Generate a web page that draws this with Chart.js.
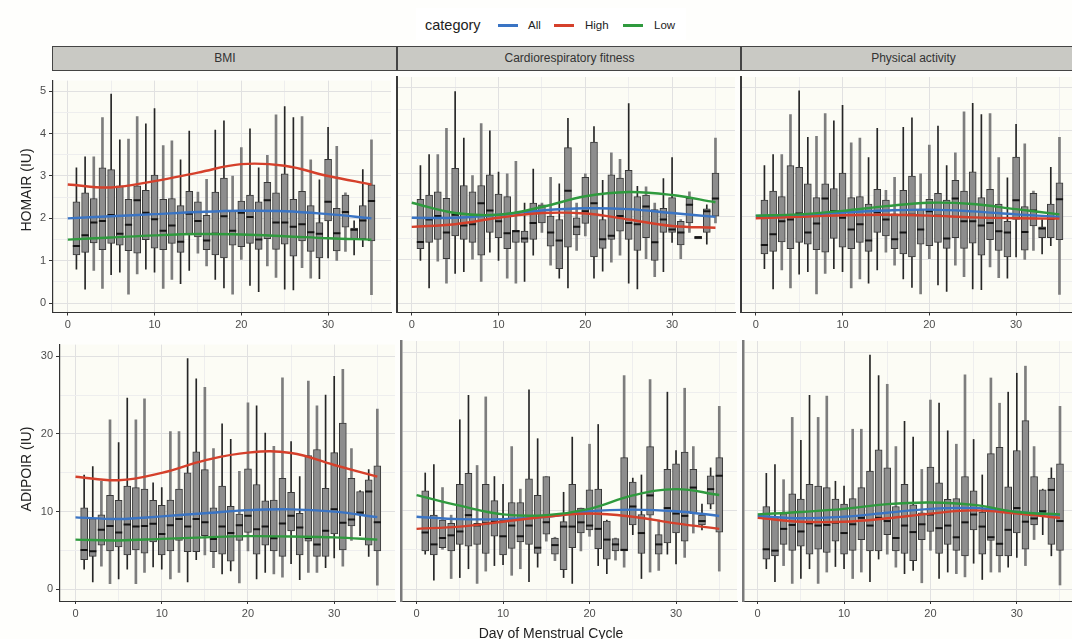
<!DOCTYPE html>
<html lang="en">
<head>
<meta charset="utf-8">
<script src="https://cdn.jsdelivr.net/npm/chart.js"></script>
<style>
  body { margin: 0; background: #fefefc; font-family: "Liberation Sans", Arial, sans-serif; color: #333; }
  #page { position: relative; width: 1072px; height: 639px; overflow: hidden; }
  canvas { position: absolute; }
  .strip { position: absolute; top: 46px; height: 23px; background: #c9c9c4; border-top: 1px solid #444; border-bottom: 1px solid #444;
           border-left: 1px solid #444; font-size: 12px; line-height: 23px; text-align: center; color: #333; }
  .ytitle { position: absolute; width: 200px; text-align: center; font-size: 14px; transform: rotate(-90deg); color: #222; }
  .leg { position: absolute; top: 17px; font-size: 11.5px; line-height: 16px; color: #222; }
  .key { position: absolute; top: 24px; width: 20px; height: 2.5px; }
</style>
</head>
<body>
<div id="page">
  <div style="position:absolute;left:416px;top:8px;width:270px;height:32px;background:#fff"></div>
  <div class="leg" style="left:425px;top:15px;font-size:14.5px;line-height:20px">category</div>
  <div class="key" style="left:498px;background:#3a74c4"></div>
  <div class="leg" style="left:528px">All</div>
  <div class="key" style="left:554px;background:#d5402b"></div>
  <div class="leg" style="left:585px">High</div>
  <div class="key" style="left:623px;background:#2f9a3e"></div>
  <div class="leg" style="left:654px">Low</div>

  <div class="strip" style="left:52px;width:344px">BMI</div>
  <div class="strip" style="left:396px;width:343px;border-left-width:2px">Cardiorespiratory fitness</div>
  <div class="strip" style="left:740px;width:343px;border-left-width:2px">Physical activity</div>

  <canvas id="h1" width="397" height="264" style="left:0;top:71px"></canvas>
  <canvas id="h2" width="350" height="264" style="left:391px;top:71px"></canvas>
  <canvas id="h3" width="350" height="264" style="left:735px;top:71px"></canvas>
  <canvas id="a1" width="401" height="290" style="left:0;top:335px"></canvas>
  <canvas id="a2" width="348" height="290" style="left:395px;top:335px"></canvas>
  <canvas id="a3" width="348" height="290" style="left:737px;top:335px"></canvas>

  <div class="ytitle" style="left:-74px;top:182px">HOMAIR (IU)</div>
  <div class="ytitle" style="left:-74px;top:461px">ADIPOIR (IU)</div>
  <div style="position:absolute;left:451px;top:625px;width:200px;text-align:center;font-size:14px;color:#222">Day of Menstrual Cycle</div>
</div>

<script>
// days of the cycle with a boxplot, and the days where the smooth curves are read
const days = [1,2,3,4,5,6,7,8,9,10,11,12,13,14,15,16,17,18,19,20,21,22,23,24,25,26,27,28,29,30,31,32,33,34,35];
const lineDays = [0,5,10,15,20,25,30,35];
const xTickLabels = [0,10,20,30];
const homaTickLabels = [0,1,2,3,4,5];
const adipoTickLabels = [0,10,20,30];

// HOMAIR boxplots (BMI and physical activity panels)
const homaLow  = [0.80,0.33,0.77,0.35,0.67,0.73,0.21,0.69,0.80,0.73,0.35,0.56,0.46,0.77,1.18,0.88,0.56,0.36,0.21,1.03,0.42,0.27,0.88,0.61,0.33,0.31,0.84,0.59,0.58,1.07,1.01,1.22,1.14,1.33,0.20];
const homaQ1   = [1.14,1.20,1.42,1.26,1.41,1.37,1.24,1.18,1.50,1.30,1.26,1.41,1.20,1.64,1.56,1.26,1.14,1.07,1.37,1.33,1.41,1.27,1.52,1.27,1.39,1.11,1.47,1.22,1.07,1.94,1.23,1.79,1.52,1.52,1.47];
const homaMed  = [1.35,1.60,1.90,1.94,2.08,1.64,1.85,2.43,2.13,1.98,1.71,1.83,1.45,2.11,1.94,1.48,1.64,2.05,1.71,2.13,2.03,1.50,2.43,1.90,1.90,1.80,1.86,1.67,1.64,2.39,1.65,2.15,1.73,1.95,2.41];
const homaQ3   = [2.39,2.60,2.47,3.19,3.15,2.77,2.45,2.77,2.66,3.02,2.45,2.47,2.30,2.64,2.39,2.07,2.62,2.95,2.17,2.41,2.55,2.39,2.85,2.60,3.05,2.45,2.64,2.30,1.90,3.39,2.24,2.55,1.77,2.30,2.79];
const homaHigh = [3.19,3.45,3.45,4.38,4.93,3.85,3.87,4.40,4.23,4.59,3.72,3.83,3.38,4.06,2.62,2.92,4.08,4.30,3.00,3.67,4.11,3.19,3.49,4.44,4.64,4.38,4.40,3.38,2.91,4.15,3.70,2.60,1.94,3.15,3.85];

// HOMAIR boxplots (cardiorespiratory fitness panel)
const homaFitLow  = [0.99,0.35,0.97,0.46,0.69,0.73,1.02,0.50,1.18,0.99,0.58,0.46,0.50,1.11,1.64,0.88,0.58,0.35,1.22,1.56,0.58,0.74,0.95,1.11,0.46,0.33,1.03,0.61,0.73,1.41,1.03,1.64,1.50,1.37,1.86];
const homaFitQ1   = [1.26,1.41,1.48,1.03,1.56,1.48,1.41,1.11,1.64,1.52,1.26,1.41,1.41,1.48,1.86,1.32,0.80,1.30,1.58,1.85,1.07,1.27,1.48,1.67,1.48,1.22,1.52,0.99,1.64,1.64,1.35,1.86,1.49,1.64,2.02];
const homaFitMed  = [1.42,1.94,2.02,1.64,2.05,1.80,1.83,2.32,2.15,1.90,1.62,1.67,1.50,1.86,2.09,1.64,1.45,2.61,1.77,2.13,2.32,1.48,1.56,2.02,1.86,1.83,2.24,1.41,1.94,1.71,1.64,2.28,1.52,2.13,2.43];
const homaFitQ3   = [2.41,2.51,2.58,2.43,3.13,2.73,2.58,2.73,2.98,2.53,2.47,1.69,1.67,2.32,2.28,2.02,1.94,3.61,1.98,2.92,3.74,1.94,2.98,2.90,3.08,2.47,2.51,2.17,2.20,2.45,1.90,2.43,1.55,2.19,3.02];
const homaFitHigh = [3.19,3.45,3.45,4.06,4.91,3.83,2.96,4.17,4.00,3.04,3.00,3.29,2.32,3.11,2.32,2.92,2.77,4.29,2.32,3.00,4.10,2.85,3.49,3.34,4.63,2.71,2.70,2.32,2.89,3.38,1.94,2.58,1.55,2.28,3.83];

// ADIPOIR boxplots (BMI and physical activity panels)
const adipoLow  = [2.60,0.95,3.00,0.74,1.36,2.60,0.74,2.18,2.88,2.60,1.36,2.18,0.95,3.83,4.45,2.80,1.98,2.39,0.82,4.94,1.36,2.18,1.98,1.57,3.30,1.24,2.18,2.18,2.80,4.04,3.00,6.30,6.92,4.24,0.54];
const adipoQ1   = [3.83,4.24,5.69,4.94,5.48,4.45,5.07,4.66,6.10,4.45,4.94,6.30,4.86,4.86,6.92,4.86,4.53,3.63,6.30,7.33,4.53,5.69,4.94,4.24,7.54,4.45,6.20,4.24,4.24,7.13,5.07,8.16,9.70,5.69,4.94];
const adipoMed  = [5.07,4.90,7.66,8.16,7.33,8.36,8.08,8.16,8.45,7.13,8.24,9.06,8.08,9.06,8.65,6.50,8.08,7.25,8.24,9.48,7.75,8.08,6.59,8.49,9.48,7.95,6.60,5.77,7.54,10.30,8.57,8.98,9.90,12.60,8.65];
const adipoQ3   = [10.5,9.1,9.6,12.1,11.45,13.3,13.1,12.9,11.45,10.8,11.5,12.9,15.0,17.7,15.4,10.5,13.3,10.7,9.7,15.5,13.5,11.4,11.5,14.3,12.5,9.8,17.2,18.0,13.0,17.6,21.4,14.3,12.6,14.1,15.9];
const adipoHigh = [14.7,15.8,13.9,21.8,18.9,24.6,21.8,24.5,13.7,13.1,20.3,20.3,29.7,27.1,26.0,18.1,21.3,19.3,15.2,24.0,23.6,20.1,18.4,27.2,19.0,14.5,26.8,23.6,25.0,27.4,28.3,18.1,12.7,15.4,23.2];

// ADIPOIR boxplots (cardiorespiratory fitness panel)
const adipoFitLow  = [4.45,1.15,5.07,1.36,1.48,2.60,0.74,2.30,3.00,3.13,1.77,2.60,0.95,2.80,6.10,3.63,1.48,0.74,4.86,6.72,3.00,1.98,3.70,2.80,6.92,1.36,2.18,2.39,4.45,3.21,4.04,7.13,7.54,10.2,2.30];
const adipoFitQ1   = [4.86,4.37,5.27,4.86,5.69,5.48,5.69,4.53,6.72,4.37,5.19,6.00,5.69,4.53,7.00,4.45,2.47,5.27,7.13,7.54,5.15,3.83,4.86,4.86,8.16,4.53,9.40,4.45,5.89,7.13,6.10,9.60,8.16,10.8,7.25];
const adipoFitMed  = [7.20,5.69,6.50,6.84,7.33,9.40,8.10,8.36,8.57,6.72,8.08,6.72,8.08,5.27,8.50,5.60,7.95,7.95,8.49,8.08,7.66,6.30,5.69,5.00,10.5,7.13,11.9,5.69,10.3,9.60,9.31,12.9,8.65,12.7,14.4];
const adipoFitQ3   = [12.5,9.4,8.78,8.36,13.3,14.7,8.36,13.3,11.25,8.78,11.0,11.0,14.0,11.9,14.3,6.50,8.57,13.3,10.3,12.6,12.7,8.65,6.43,16.7,13.6,9.48,18.1,6.92,15.2,15.9,17.4,15.2,9.40,14.4,16.7];
const adipoFitHigh = [14.75,15.8,12.9,9.4,21.5,24.6,15.7,24.4,14.3,13.3,18.1,12.7,25.3,19.1,14.3,6.6,12.3,19.3,10.3,18.4,20.9,8.78,6.5,27.1,14.1,14.5,26.6,8.78,25.0,17.6,25.5,18.1,10.8,15.4,23.2];

// smooth curves by category, read at lineDays
const homaBmiAll   = [2.00,2.05,2.10,2.15,2.18,2.17,2.10,2.00];
const homaBmiHigh  = [2.80,2.73,2.88,3.08,3.28,3.24,3.00,2.80];
const homaBmiLow   = [1.50,1.55,1.60,1.63,1.62,1.58,1.53,1.50];
const homaFitAll   = [1.98,1.98,2.05,2.15,2.20,2.18,2.09,2.00];
const homaFitHighC = [1.77,1.83,1.98,2.09,2.08,1.94,1.79,1.75];
const homaFitLowC  = [2.33,2.09,2.05,2.23,2.48,2.58,2.51,2.34];
const homaActAll   = [2.02,2.04,2.10,2.15,2.17,2.13,2.06,2.00];
const homaActHigh  = [1.97,2.00,2.04,2.05,2.03,1.99,1.97,1.96];
const homaActLow   = [2.03,2.06,2.14,2.25,2.33,2.30,2.18,2.06];
const adipoBmiAll  = [9.27,9.06,9.40,9.80,10.2,10.3,10.0,9.30];
const adipoBmiHigh = [14.5,14.05,15.0,16.6,17.6,17.55,16.0,14.5];
const adipoBmiLow  = [6.40,6.30,6.50,6.70,6.85,6.80,6.70,6.40];
const adipoFitAll  = [9.20,8.90,8.90,9.20,9.90,10.1,9.90,9.30];
const adipoFitHighC= [7.66,7.95,8.57,9.20,9.60,9.20,8.36,7.66];
const adipoFitLowC = [11.95,10.6,9.50,9.40,10.2,11.9,12.7,11.95];
const adipoActAll  = [9.30,9.00,9.20,9.70,10.2,10.3,9.80,9.40];
const adipoActHigh = [9.06,8.57,8.57,9.00,9.60,10.0,9.60,9.06];
const adipoActLow  = [9.50,9.80,10.2,10.8,11.0,10.7,9.80,9.50];

const BLUE = '#3a74c4', RED = '#d5402b', GREEN = '#2f9a3e';

const panelBg = {
  id: 'panelBg',
  beforeDraw(chart) {
    const a = chart.chartArea, g = chart.ctx;
    g.save();
    g.fillStyle = '#fcfcf5';
    g.fillRect(a.left, a.top, a.right - a.left, a.bottom - a.top);
    g.restore();
  }
};

function curve(vals, color, order) {
  return {
    type: 'line', order: order,
    data: lineDays.map((d, i) => ({ x: d, y: vals[i] })),
    borderColor: color, borderWidth: 2.4, pointRadius: 0, tension: 0.4, fill: false
  };
}

// whiskers sit on a fractional pixel grid in the source, half look thin/black, half soft/grey
const softDay = d => d % 4 === 3 || d % 4 === 0;

function boxes(low, q1, med, q3, high) {
  const whisk = (keep) => days.map((d, i) => ({ x: d, y: [low[i], high[i]] })).filter(p => keep(p.x));
  return [
    { type: 'scatter', order: 3,
      data: days.map((d, i) => ({ x: d, y: med[i] })),
      pointStyle: 'line', pointRadius: 3.6, borderColor: '#151515', borderWidth: 2 },
    { type: 'bar', order: 4, grouped: false,
      data: days.map((d, i) => ({ x: d, y: [q1[i], q3[i]] })),
      backgroundColor: '#8d8d8d', borderColor: '#383838', borderWidth: 1, borderSkipped: false, barThickness: 7 },
    { type: 'bar', order: 5, grouped: false,
      data: whisk(d => !softDay(d)),
      backgroundColor: '#262626', barThickness: 1 },
    { type: 'bar', order: 6, grouped: false,
      data: whisk(softDay),
      backgroundColor: '#7d7d7d', barThickness: 2 }
  ];
}

function isLabel(list, v) {
  return list.some(t => Math.abs(t - v) < 1e-6);
}

function panel(id, p) {
  new Chart(document.getElementById(id), {
    type: 'bar',
    data: { datasets: [
      curve(p.low, GREEN, 0), curve(p.high, RED, 1), curve(p.all, BLUE, 2),
      ...p.box
    ] },
    options: {
      responsive: false, animation: false, events: [],
      layout: { padding: 0 },
      plugins: { legend: { display: false }, tooltip: { enabled: false } },
      scales: {
        x: {
          type: 'linear', min: p.xMin, max: p.xMax, offset: false,
          afterFit: s => { s.height = p.xh; },
          ticks: { stepSize: 5, includeBounds: false, autoSkip: false, maxRotation: 0, padding: 3,
                   color: '#4d4d4d', font: { size: 11 },
                   callback: v => isLabel(xTickLabels, v) ? v : '' },
          grid: { offset: false, tickLength: 3,
                  color: c => isLabel(xTickLabels, c.tick.value) ? '#e1e1e1' : '#eeeeee',
                  tickColor: c => isLabel(xTickLabels, c.tick.value) ? '#333' : 'rgba(0,0,0,0)' },
          border: { color: '#333', width: 1 }
        },
        y: {
          min: p.yMin, max: p.yMax,
          afterFit: s => { s.width = p.yw; },
          ticks: { display: p.showY, stepSize: p.step, includeBounds: false, padding: 3,
                   color: '#4d4d4d', font: { size: 11 },
                   callback: v => isLabel(p.yLabels, v) ? v : '' },
          grid: { drawTicks: p.showY, tickLength: 4,
                  color: c => isLabel(p.yLabels, c.tick.value) ? '#e1e1e1' : '#eeeeee',
                  tickColor: c => isLabel(p.yLabels, c.tick.value) ? '#333' : 'rgba(0,0,0,0)' },
          border: { color: p.edge, width: p.edgeW }
        }
      }
    },
    plugins: [panelBg]
  });
}

const homaScale = { yMin: -0.22, yMax: 5.25, step: 0.5, yLabels: homaTickLabels, xMin: -1.7, xMax: 37.25, xh: 22.5 };
const adipoScale = { yMin: -1.49, yMax: 31.49, step: 5, yLabels: adipoTickLabels, xMin: -1.8, xMax: 37.05, xh: 24 };

panel('h1', { ...homaScale, yw: 53, showY: true, edge: '#333', edgeW: 1.2,
  all: homaBmiAll, high: homaBmiHigh, low: homaBmiLow, box: boxes(homaLow, homaQ1, homaMed, homaQ3, homaHigh) });
panel('h2', { ...homaScale, yw: 6, showY: false, edge: '#3a3a3a', edgeW: 2,
  all: homaFitAll, high: homaFitHighC, low: homaFitLowC,
  box: boxes(homaFitLow, homaFitQ1, homaFitMed, homaFitQ3, homaFitHigh) });
panel('h3', { ...homaScale, yw: 6, showY: false, edge: '#3a3a3a', edgeW: 2,
  all: homaActAll, high: homaActHigh, low: homaActLow, box: boxes(homaLow, homaQ1, homaMed, homaQ3, homaHigh) });
panel('a1', { ...adipoScale, yw: 60, showY: true, edge: '#333', edgeW: 1.2,
  all: adipoBmiAll, high: adipoBmiHigh, low: adipoBmiLow, box: boxes(adipoLow, adipoQ1, adipoMed, adipoQ3, adipoHigh) });
panel('a2', { ...adipoScale, yw: 6, showY: false, edge: '#7a7a7a', edgeW: 2.5,
  all: adipoFitAll, high: adipoFitHighC, low: adipoFitLowC,
  box: boxes(adipoFitLow, adipoFitQ1, adipoFitMed, adipoFitQ3, adipoFitHigh) });
panel('a3', { ...adipoScale, xMin: -1.7, xMax: 37.2, yw: 6, showY: false, edge: '#7a7a7a', edgeW: 2.5,
  all: adipoActAll, high: adipoActHigh, low: adipoActLow, box: boxes(adipoLow, adipoQ1, adipoMed, adipoQ3, adipoHigh) });
</script>
</body>
</html>
